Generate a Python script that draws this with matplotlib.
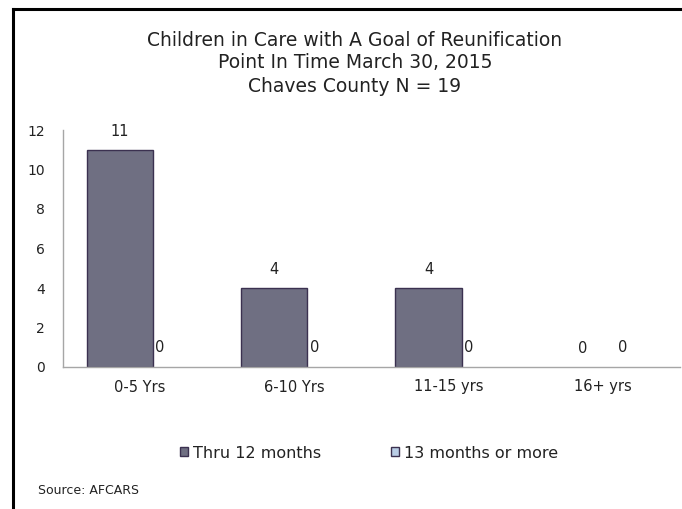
import matplotlib
matplotlib.use("Agg")
import matplotlib.pyplot as plt
import numpy as np
from matplotlib.patches import Patch
from matplotlib.lines import Line2D

categories = ["0-5 Yrs", "6-10 Yrs", "11-15 yrs", "16+ yrs"]
series_names = ["Thru 12 months", "13 months or more"]
thru_12 = [11, 4, 4, 0]
over_13 = [0, 0, 0, 0]
title_lines = ["Children in Care with A Goal of Reunification",
               "Point In Time March 30, 2015",
               "Chaves County N = 19"]
source_text = "Source: AFCARS"

c1 = "#6f6f82"
c2 = "#b9cde5"
edge = "#3b3150"
txt = "#222222"

fig = plt.figure(figsize=(6.82, 5.09), dpi=100)
fig.patch.set_facecolor("white")

# frame border
fig.add_artist(Line2D([13/682, 13/682], [0, 1 - 9/509], transform=fig.transFigure,
                      color="black", lw=2.2))
fig.add_artist(Line2D([13/682, 1], [1 - 9/509, 1 - 9/509], transform=fig.transFigure,
                      color="black", lw=2.2))

ax = fig.add_axes([63/682, 1 - 367/509, (680 - 63)/682, (367 - 130)/509])
x = np.arange(len(categories))
w = 0.43
off = 0.13
ax.bar(x - off, thru_12, width=w, color=c1, edgecolor=edge,
       linewidth=[1.0 if v > 0 else 0 for v in thru_12])
ax.bar(x + off, over_13, width=w, color=c2, edgecolor=edge,
       linewidth=[1.0 if v > 0 else 0 for v in over_13])

for xi, v in zip(x - off, thru_12):
    ax.annotate(str(v), (xi, v), xytext=(0, 13), textcoords="offset points",
                ha="center", va="center", fontsize=10.5, color=txt)
for xi, v in zip(x + off, over_13):
    ax.annotate(str(v), (xi, v), xytext=(0, 14), textcoords="offset points",
                ha="center", va="center", fontsize=10.5, color=txt)

ax.set_xlim(-0.5, len(categories) - 0.5)
ax.set_ylim(0, 12)
ax.set_yticks(range(0, 13, 2))
ax.set_xticks(x)
ax.set_xticklabels(categories)
ax.tick_params(axis="both", length=0, colors=txt)
ax.tick_params(axis="y", pad=13, labelsize=10)
ax.tick_params(axis="x", pad=9, labelsize=10.5)
for s in ["top", "right"]:
    ax.spines[s].set_visible(False)
for s in ["left", "bottom"]:
    ax.spines[s].set_color("#a6a6a6")
    ax.spines[s].set_linewidth(1.0)

ys = [40, 63, 87]
for t, yy in zip(title_lines, ys):
    fig.text(355/682, 1 - yy/509, t, ha="center", va="center", fontsize=13.5,
             family="DejaVu Sans", color=txt)

handles = [Patch(facecolor=c1, edgecolor=edge, label=series_names[0]),
           Patch(facecolor=c2, edgecolor=edge, label=series_names[1])]
fig.legend(handles=handles, loc="center", bbox_to_anchor=(369/682, 1 - 453/509),
           ncol=2, frameon=False, fontsize=11.5, handlelength=0.5, handleheight=0.5,
           handletextpad=0.3, columnspacing=4.4, labelcolor=txt)

fig.text(38/682, 1 - 491/509, source_text, ha="left", va="center", fontsize=9,
         color=txt)

fig.savefig("out.png", dpi=100)
